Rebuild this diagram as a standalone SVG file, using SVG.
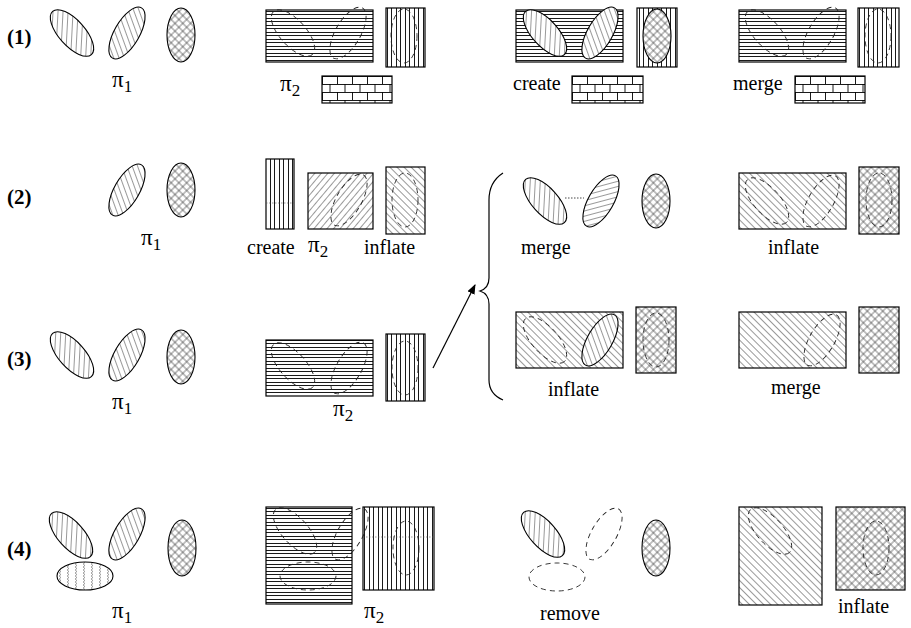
<svg xmlns="http://www.w3.org/2000/svg" width="911" height="628" viewBox="0 0 911 628">
<defs>
<pattern id="bs" width="5" height="5" patternUnits="userSpaceOnUse" patternTransform="rotate(-45)"><line x1="2.5" y1="0" x2="2.5" y2="5" stroke="#444" stroke-width="0.55"/></pattern>
<pattern id="fs" width="5" height="5" patternUnits="userSpaceOnUse" patternTransform="rotate(40)"><line x1="2.5" y1="0" x2="2.5" y2="5" stroke="#444" stroke-width="0.55"/></pattern>
<pattern id="xh" width="5.5" height="5.5" patternUnits="userSpaceOnUse" patternTransform="rotate(45)"><path d="M2.75,0V5.5M0,2.75H5.5" stroke="#333" stroke-width="0.6"/></pattern>
<pattern id="hl" width="10" height="7" patternUnits="userSpaceOnUse"><path d="M0,0.5H10M0,4.5H10" stroke="#000" stroke-width="0.9"/></pattern>
<pattern id="vl" width="9" height="10" patternUnits="userSpaceOnUse"><path d="M0.5,0V10M4.5,0V10" stroke="#000" stroke-width="0.9"/></pattern>
<pattern id="br" width="15" height="16" patternUnits="userSpaceOnUse" x="322" y="76"><path d="M0,0.5H15M0,8.5H15M0.5,0V8M8,8V16" stroke="#000" stroke-width="0.9" fill="none"/></pattern>
<pattern id="br2" width="15" height="16" patternUnits="userSpaceOnUse" x="572" y="76"><path d="M0,0.5H15M0,8.5H15M0.5,0V8M8,8V16" stroke="#000" stroke-width="0.9" fill="none"/></pattern>
<pattern id="br3" width="15" height="16" patternUnits="userSpaceOnUse" x="795" y="76"><path d="M0,0.5H15M0,8.5H15M0.5,0V8M8,8V16" stroke="#000" stroke-width="0.9" fill="none"/></pattern>
<pattern id="wv" width="8" height="6" patternUnits="userSpaceOnUse"><path d="M3,0l2,1.5l-2,1.5l2,1.5l-2,1.5" stroke="#666" stroke-width="0.6" fill="none"/></pattern>
<marker id="ah" markerWidth="10" markerHeight="8" refX="9" refY="4" orient="auto" markerUnits="userSpaceOnUse"><path d="M0,0L10,4L0,8z" fill="#000"/></marker>
</defs>
<style>
.o{stroke:#000;stroke-width:1.1}
.w{fill:#fff;stroke:none}
.d{fill:none;stroke:#222;stroke-width:0.9;stroke-dasharray:5 4}
.r{stroke:#000;stroke-width:1.2}
.t{font-family:"Liberation Serif",serif;font-size:20px;fill:#000}
.b{font-weight:bold;font-size:21px}
.p{font-family:"Liberation Serif",serif;font-size:23px;fill:#000}
.s{font-size:17px}
</style>
<rect width="911" height="628" fill="#fff"/>

<!-- Row 1 -->
<g id="r1-label"><text class="t b" x="7" y="44">(1)</text></g>
<g id="r1-pi1">
<ellipse class="o" fill="url(#bs)" cx="72" cy="33" rx="29" ry="13" transform="rotate(48 72 33)"/>
<ellipse class="o" fill="url(#fs)" cx="127" cy="33" rx="29" ry="12.5" transform="rotate(-60 127 33)"/>
<ellipse class="o" fill="url(#xh)" cx="181" cy="35" rx="14" ry="27"/>
<text class="p" x="112" y="87">π<tspan class="s" dy="5">1</tspan></text>
</g>
<g id="r1-pi2">
<rect x="266" y="10" width="107" height="52" fill="url(#hl)" class="r"/>
<ellipse class="d" cx="293" cy="33" rx="29" ry="13" transform="rotate(48 293 33)"/>
<ellipse class="d" cx="348" cy="33" rx="29" ry="12.5" transform="rotate(-60 348 33)"/>
<rect x="386" y="8" width="39" height="59" fill="url(#vl)" class="r"/>
<ellipse class="d" cx="404" cy="36" rx="13" ry="27"/>
<rect x="322" y="76" width="70" height="27" fill="url(#br)" class="r"/>
<text class="p" x="280" y="91">π<tspan class="s" dy="5">2</tspan></text>
</g>
<g id="r1-create">
<rect x="516" y="10" width="107" height="52" fill="url(#hl)" class="r"/>
<ellipse class="w" cx="545" cy="33" rx="29" ry="13" transform="rotate(48 545 33)"/>
<ellipse class="o" fill="url(#bs)" cx="545" cy="33" rx="29" ry="13" transform="rotate(48 545 33)"/>
<ellipse class="w" cx="600" cy="33" rx="29" ry="12.5" transform="rotate(-60 600 33)"/>
<ellipse class="o" fill="url(#fs)" cx="600" cy="33" rx="29" ry="12.5" transform="rotate(-60 600 33)"/>
<rect x="637" y="8" width="40" height="59" fill="url(#vl)" class="r"/>
<ellipse class="w" cx="657" cy="36" rx="14" ry="27"/>
<ellipse class="o" fill="url(#xh)" cx="657" cy="36" rx="14" ry="27"/>
<rect x="572" y="76" width="71" height="27" fill="url(#br2)" class="r"/>
<text class="t" x="513" y="90">create</text>
</g>
<g id="r1-merge">
<rect x="739" y="10" width="107" height="52" fill="url(#hl)" class="r"/>
<ellipse class="d" cx="767" cy="33" rx="29" ry="13" transform="rotate(48 767 33)"/>
<ellipse class="d" cx="821" cy="33" rx="29" ry="12.5" transform="rotate(-60 821 33)"/>
<rect x="858" y="8" width="41" height="59" fill="url(#vl)" class="r"/>
<ellipse class="d" cx="878" cy="36" rx="13" ry="27"/>
<rect x="795" y="76" width="70" height="27" fill="url(#br3)" class="r"/>
<text class="t" x="733" y="90">merge</text>
</g>

<!-- Row 2 -->
<g id="r2-label"><text class="t b" x="7" y="204">(2)</text></g>
<g id="r2-pi1">
<ellipse class="o" fill="url(#fs)" cx="127" cy="190" rx="29" ry="12.5" transform="rotate(-60 127 190)"/>
<ellipse class="o" fill="url(#xh)" cx="181" cy="190" rx="14" ry="27"/>
<text class="p" x="141" y="245">π<tspan class="s" dy="5">1</tspan></text>
</g>
<g id="r2-pi2">
<rect x="266" y="159" width="28" height="70" fill="url(#vl)" class="r"/>
<line x1="266" y1="203" x2="294" y2="203" stroke="#555" stroke-width="0.6" stroke-dasharray="1.5 1.5"/>
<rect x="308" y="173" width="65" height="56" fill="url(#fs)" class="r"/>
<ellipse class="d" cx="349" cy="200" rx="29" ry="12.5" transform="rotate(-60 349 200)"/>
<rect x="386" y="167" width="39" height="67" fill="url(#bs)" class="r"/>
<ellipse class="d" cx="405" cy="200" rx="13" ry="27"/>
<text class="t" x="247" y="254">create</text>
<text class="p" x="308" y="252">π<tspan class="s" dy="5">2</tspan></text>
<text class="t" x="364" y="254">inflate</text>
</g>
<g id="r2-merge">
<ellipse class="o" fill="url(#bs)" cx="545" cy="201" rx="29" ry="13" transform="rotate(48 545 201)"/>
<line x1="565" y1="198" x2="584" y2="198" stroke="#333" stroke-width="0.9" stroke-dasharray="1.5 1.5"/>
<ellipse class="o" fill="url(#bs)" cx="601" cy="201" rx="29" ry="12.5" transform="rotate(-60 601 201)"/>
<ellipse class="o" fill="url(#xh)" cx="656" cy="201" rx="14" ry="27"/>
<text class="t" x="521" y="254">merge</text>
</g>
<g id="r2-inflate">
<rect x="739" y="173" width="107" height="56" fill="url(#bs)" class="r"/>
<ellipse class="d" cx="767" cy="201" rx="29" ry="13" transform="rotate(48 767 201)"/>
<ellipse class="d" cx="821" cy="201" rx="29" ry="12.5" transform="rotate(-60 821 201)"/>
<rect x="859" y="167" width="40" height="67" fill="url(#xh)" class="r"/>
<ellipse class="d" cx="879" cy="200" rx="13" ry="27"/>
<text class="t" x="768" y="254">inflate</text>
</g>

<!-- Row 3 -->
<g id="r3-label"><text class="t b" x="7" y="366">(3)</text></g>
<g id="r3-pi1">
<ellipse class="o" fill="url(#bs)" cx="72" cy="355" rx="29" ry="13" transform="rotate(48 72 355)"/>
<ellipse class="o" fill="url(#fs)" cx="127" cy="355" rx="29" ry="12.5" transform="rotate(-60 127 355)"/>
<ellipse class="o" fill="url(#xh)" cx="181" cy="357" rx="14" ry="27"/>
<text class="p" x="112" y="409">π<tspan class="s" dy="5">1</tspan></text>
</g>
<g id="r3-pi2">
<rect x="266" y="340" width="107" height="56" fill="url(#hl)" class="r"/>
<ellipse class="d" cx="293" cy="366" rx="29" ry="13" transform="rotate(48 293 366)"/>
<ellipse class="d" cx="349" cy="368" rx="29" ry="12.5" transform="rotate(-60 349 368)"/>
<rect x="386" y="334" width="39" height="67" fill="url(#vl)" class="r"/>
<ellipse class="d" cx="405" cy="368" rx="13" ry="27"/>
<text class="p" x="333" y="416">π<tspan class="s" dy="5">2</tspan></text>
</g>
<g id="r3-inflate">
<rect x="516" y="312" width="107" height="56" fill="url(#bs)" class="r"/>
<ellipse class="d" cx="545" cy="340" rx="29" ry="13" transform="rotate(48 545 340)"/>
<ellipse class="w" cx="600" cy="340" rx="29" ry="12.5" transform="rotate(-60 600 340)"/>
<ellipse class="o" fill="url(#fs)" cx="600" cy="340" rx="29" ry="12.5" transform="rotate(-60 600 340)"/>
<rect x="636" y="307" width="40" height="66" fill="url(#xh)" class="r"/>
<ellipse class="d" cx="656" cy="340" rx="13" ry="27"/>
<text class="t" x="548" y="396">inflate</text>
</g>
<g id="r3-merge">
<rect x="739" y="312" width="107" height="56" fill="url(#bs)" class="r"/>
<ellipse class="d" cx="822" cy="340" rx="29" ry="12.5" transform="rotate(-60 822 340)"/>
<rect x="859" y="307" width="40" height="66" fill="url(#xh)" class="r"/>
<text class="t" x="771" y="394">merge</text>
</g>

<!-- Row 4 -->
<g id="r4-label"><text class="t b" x="7" y="556">(4)</text></g>
<g id="r4-pi1">
<ellipse class="o" fill="url(#bs)" cx="71" cy="535" rx="29" ry="13" transform="rotate(48 71 535)"/>
<ellipse class="o" fill="url(#fs)" cx="127" cy="534" rx="29" ry="12.5" transform="rotate(-60 127 534)"/>
<ellipse class="o" fill="url(#xh)" cx="182" cy="548" rx="14" ry="28"/>
<ellipse class="o" fill="url(#wv)" cx="85" cy="576" rx="28" ry="14"/>
<text class="p" x="112" y="618">π<tspan class="s" dy="5">1</tspan></text>
</g>
<g id="r4-pi2">
<rect x="266" y="507" width="86" height="97" fill="url(#hl)" class="r"/>
<rect x="363" y="507" width="71" height="83" fill="url(#vl)" class="r"/>
<ellipse class="d" cx="295" cy="531" rx="29" ry="13" transform="rotate(48 295 531)"/>
<ellipse class="d" cx="350" cy="534" rx="29" ry="12.5" transform="rotate(-60 350 534)"/>
<ellipse class="d" cx="308" cy="576" rx="28" ry="14"/>
<ellipse class="d" cx="406" cy="548" rx="13" ry="27"/>
<line x1="363" y1="537" x2="434" y2="537" stroke="#555" stroke-width="0.6" stroke-dasharray="1.5 1.5"/>
<text class="p" x="364" y="618">π<tspan class="s" dy="5">2</tspan></text>
</g>
<g id="r4-remove">
<ellipse class="o" fill="url(#bs)" cx="543" cy="534" rx="29" ry="13" transform="rotate(48 543 534)"/>
<ellipse class="d" cx="604" cy="534" rx="29" ry="12.5" transform="rotate(-60 604 534)"/>
<ellipse class="d" cx="557" cy="577" rx="28" ry="14"/>
<ellipse class="o" fill="url(#xh)" cx="656" cy="548" rx="14" ry="28"/>
<text class="t" x="540" y="620">remove</text>
</g>
<g id="r4-inflate">
<rect x="739" y="507" width="83" height="98" fill="url(#bs)" class="r"/>
<ellipse class="d" cx="770" cy="531" rx="29" ry="13" transform="rotate(48 770 531)"/>
<rect x="836" y="507" width="69" height="83" fill="url(#xh)" class="r"/>
<ellipse class="d" cx="876" cy="548" rx="13" ry="27"/>
<text class="t" x="838" y="613">inflate</text>
</g>

<g id="connectors">
<path d="M503,173 Q489,182 489,200 L489,278 Q489,288 480,291 Q489,294 489,304 L489,380 Q489,394 503,400" fill="none" stroke="#000" stroke-width="1.2"/>
<line x1="433" y1="368" x2="475" y2="285" stroke="#000" stroke-width="1.2" marker-end="url(#ah)"/>
</g>
</svg>
